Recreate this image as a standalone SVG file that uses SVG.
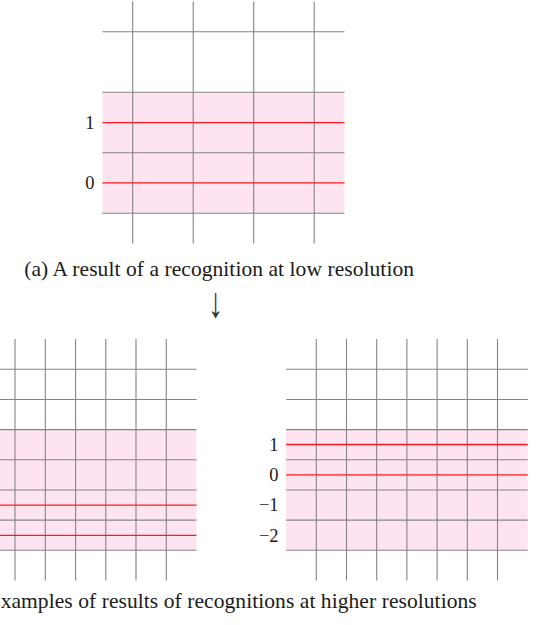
<svg xmlns="http://www.w3.org/2000/svg" width="540" height="625" viewBox="0 0 540 625">
<style>
.bg{fill:#ffffff}
.band{fill:#fde4f0;stroke:none}
.g{stroke:#858585;stroke-width:1.1;fill:none}
.r{stroke:#ff1a1a;stroke-width:1.3;fill:none}
.lbl{font-family:"Liberation Serif","Times New Roman",serif;font-size:18.5px;fill:#1a1a1a;text-anchor:end}
.cap{font-family:"Liberation Serif","Times New Roman",serif;font-size:21.5px;fill:#1a1a1a}
.arrow{font-family:"Liberation Serif","Times New Roman",serif;font-size:30px;fill:#333333;text-anchor:middle}
</style>
<rect class="bg" x="0" y="0" width="540" height="625"/>

<g id="panel-a">
  <rect class="band" x="102.45" y="92.2" width="242" height="121"/>
  <path class="g" d="M132.7,1.4V243.5M193.2,1.4V243.5M253.7,1.4V243.5M314.2,1.4V243.5"/>
  <path class="g" d="M102.45,31.7H344.45M102.45,92.2H344.45M102.45,152.7H344.45M102.45,213.2H344.45"/>
  <path class="r" d="M102.45,122.6H344.45M102.45,182.8H344.45"/>
  <text class="lbl" x="94.5" y="129.2">1</text>
  <text class="lbl" x="94.5" y="189.4">0</text>
</g>
<text id="caption-a" class="cap" x="24.2" y="276.3" textLength="389.8" lengthAdjust="spacing">(a) A result of a recognition at low resolution</text>

<g id="connectors">
  <text class="arrow" transform="translate(215.5,317) scale(1,1.43)" x="0" y="0">↓</text>
</g>

<g id="panel-b-left">
  <rect class="band" x="-46" y="429.6" width="242.5" height="120.7"/>
  <path class="g" d="M-15.2,339.1V580.5M15,339.1V580.5M45.3,339.1V580.5M75.6,339.1V580.5M105.8,339.1V580.5M136,339.1V580.5M166.3,339.1V580.5"/>
  <path class="g" d="M-46,369.3H196.5M-46,399.5H196.5M-46,429.6H196.5M-46,459.8H196.5M-46,490H196.5M-46,520.1H196.5M-46,550.3H196.5"/>
  <path class="r" d="M-46,505.2H196.5M-46,535.3H196.5"/>
</g>

<g id="panel-b-right">
  <rect class="band" x="286.1" y="429.6" width="241.6" height="120.7"/>
  <path class="g" d="M316.3,339.1V580.5M346.5,339.1V580.5M376.7,339.1V580.5M406.9,339.1V580.5M437.1,339.1V580.5M467.3,339.1V580.5M497.5,339.1V580.5"/>
  <path class="g" d="M286.1,369.3H527.7M286.1,399.5H527.7M286.1,429.6H527.7M286.1,459.8H527.7M286.1,490H527.7M286.1,520.1H527.7M286.1,550.3H527.7"/>
  <path class="r" d="M286.1,444.5H527.7M286.1,474.8H527.7"/>
  <text class="lbl" x="278.6" y="451.3">1</text>
  <text class="lbl" x="278.6" y="481.4">0</text>
  <text class="lbl" x="278.6" y="511.4">−1</text>
  <text class="lbl" x="278.6" y="541.6">−2</text>
</g>
<text id="caption-b" class="cap" x="-43.3" y="608.3" textLength="520" lengthAdjust="spacing">(b) Examples of results of recognitions at higher resolutions</text>
</svg>
